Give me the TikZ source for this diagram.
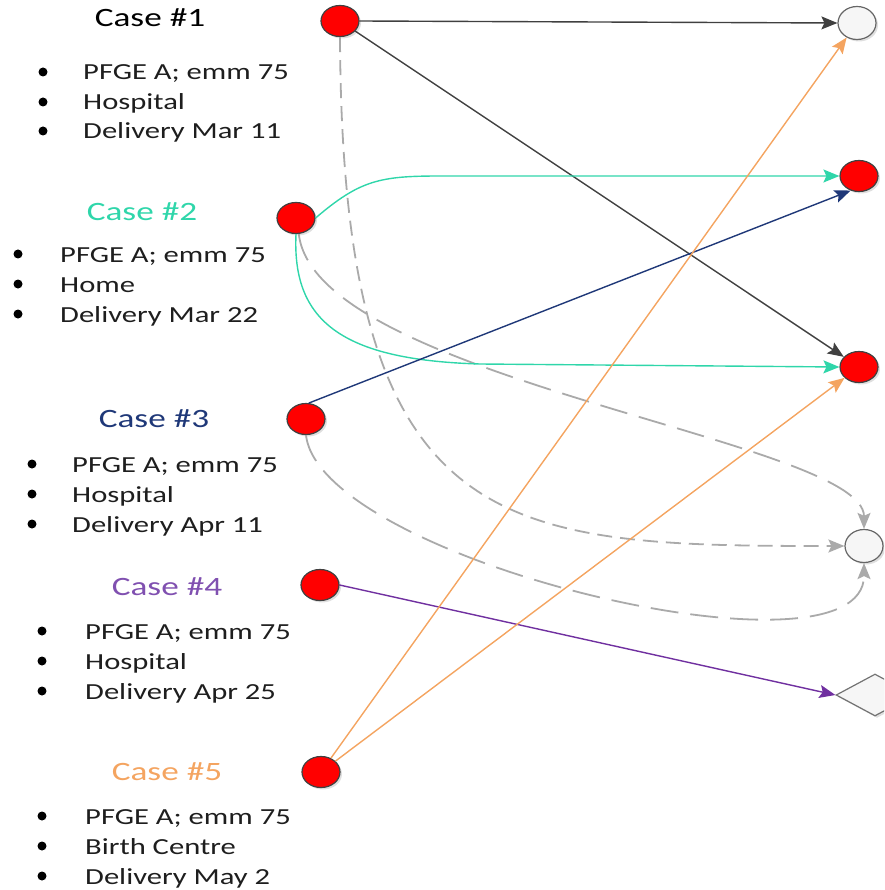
\documentclass[tikz,border=0pt]{standalone}
\usepackage{fontspec}
\setmainfont{Carlito}[FakeStretch=1.33]
\usetikzlibrary{shapes.geometric,arrows.meta,shadows}
\definecolor{cyanc}{RGB}{47,214,170}
\definecolor{navyc}{RGB}{31,56,120}
\definecolor{purpc}{RGB}{112,48,160}
\definecolor{purpt}{RGB}{128,80,176}
\definecolor{orangec}{RGB}{244,164,96}
\definecolor{darkc}{RGB}{64,64,64}
\definecolor{dashc}{RGB}{170,170,170}
\definecolor{textc}{RGB}{30,30,30}
\begin{document}
\begin{tikzpicture}[x=1pt,y=-1pt]
\tikzset{
 shad/.style={drop shadow={opacity=0.25,shadow xshift=2pt,shadow yshift=-2pt}},
 redc/.style={ellipse,draw=black!75,line width=1.2pt,fill=red,minimum width=38pt,minimum height=31pt,inner sep=0pt,shad},
 whitec/.style={ellipse,draw=black!60,line width=1.2pt,fill=gray!7,minimum width=38pt,minimum height=33pt,inner sep=0pt,shad},
 hdr/.style={font=\fontsize{26.5}{30}\selectfont,anchor=base,inner sep=0pt},
 itm/.style={font=\fontsize{23}{27}\selectfont,anchor=base west,inner sep=0pt,text=textc},
 conn/.style={line width=1.4pt,-{Stealth[length=16pt,width=13pt,inset=3pt]}},
 shortdash/.style={conn,dashc,line width=1.8pt,dash pattern=on 15pt off 8pt},
 longdash/.style={conn,dashc,line width=1.8pt,dash pattern=on 28pt off 12pt},
}
\useasboundingbox (0,0) rectangle (884,890);
\clip (0,0) rectangle (884,890);

% left case nodes
\node[redc] (c1) at (340,21) {};
\node[redc] (c2) at (296,218) {};
\node[redc] (c3) at (306,419) {};
\node[redc] (c4) at (320,585) {};
\node[redc] (c5) at (321,772) {};

% right nodes
\node[whitec] (r1) at (857,23) {};
\node[redc] (r2) at (859,176) {};
\node[redc] (r3) at (859,367) {};
\node[whitec] (r4) at (864,546) {};
\node[diamond,draw=black!55,line width=1.2pt,fill=gray!7,minimum width=78pt,minimum height=42pt,inner sep=0pt,shad] (d1) at (875,695) {};

% texts
\node[hdr,text=black] (h1) at (150,27) {Case \#1};
\node[itm] (t1a) at (83,80) {PFGE A; emm 75};
\node[itm] (t1b) at (83,110) {Hospital};
\node[itm] (t1c) at (83,139) {Delivery Mar 11};
\foreach \y in {80,110,139} \fill[black] (43,\y-8) circle (4.5);

\node[hdr,text=cyanc] (h2) at (142,221) {Case \#2};
\node[itm] (t2a) at (60,262) {PFGE A; emm 75};
\node[itm] (t2b) at (60,292) {Home};
\node[itm] (t2c) at (60,322) {Delivery Mar 22};
\foreach \y in {262,292,322} \fill[black] (18,\y-8) circle (4.5);

\node[hdr,text=navyc] (h3) at (154,427) {Case \#3};
\node[itm] (t3a) at (72,472) {PFGE A; emm 75};
\node[itm] (t3b) at (72,502) {Hospital};
\node[itm] (t3c) at (72,532) {Delivery Apr 11};
\foreach \y in {472,502,532} \fill[black] (32,\y-8) circle (4.5);

\node[hdr,text=purpt] (h4) at (167,595) {Case \#4};
\node[itm] (t4a) at (85,639) {PFGE A; emm 75};
\node[itm] (t4b) at (85,669) {Hospital};
\node[itm] (t4c) at (85,699) {Delivery Apr 25};
\foreach \y in {639,669,699} \fill[black] (42,\y-8) circle (4.5);

\node[hdr,text=orangec] (h5) at (167,780) {Case \#5};
\node[itm] (t5a) at (85,824) {PFGE A; emm 75};
\node[itm] (t5b) at (85,854) {Birth Centre};
\node[itm] (t5c) at (85,884) {Delivery May 2};
\foreach \y in {824,854,884} \fill[black] (42,\y-8) circle (4.5);

% connectors
\draw[shortdash] (c1.south) .. controls (342,540) and (500,546) .. (r4.west);
\draw[longdash] (c2.-80) .. controls (315,380) and (864,440) .. (r4.north);
\draw[longdash] (c3.south) .. controls (320,560) and (864,690) .. (r4.south);

\draw[conn,darkc] (c1.east) -- (r1.west);
\draw[conn,darkc] (c1) -- (r3);
\draw[conn,cyanc] (c2.east) .. controls (360,180) and (380,176) .. (440,176) -- (r2.west);
\draw[conn,cyanc] (c2.south) .. controls (292,320) and (340,360) .. (480,364) -- (r3.west);
\draw[conn,navyc] (c3.80) -- (r2.-120);
\draw[conn,purpc] (c4.east) -- (d1.west);
\draw[conn,orangec] (c5) -- (r1);
\draw[conn,orangec] (c5) -- (r3);
\end{tikzpicture}
\end{document}
